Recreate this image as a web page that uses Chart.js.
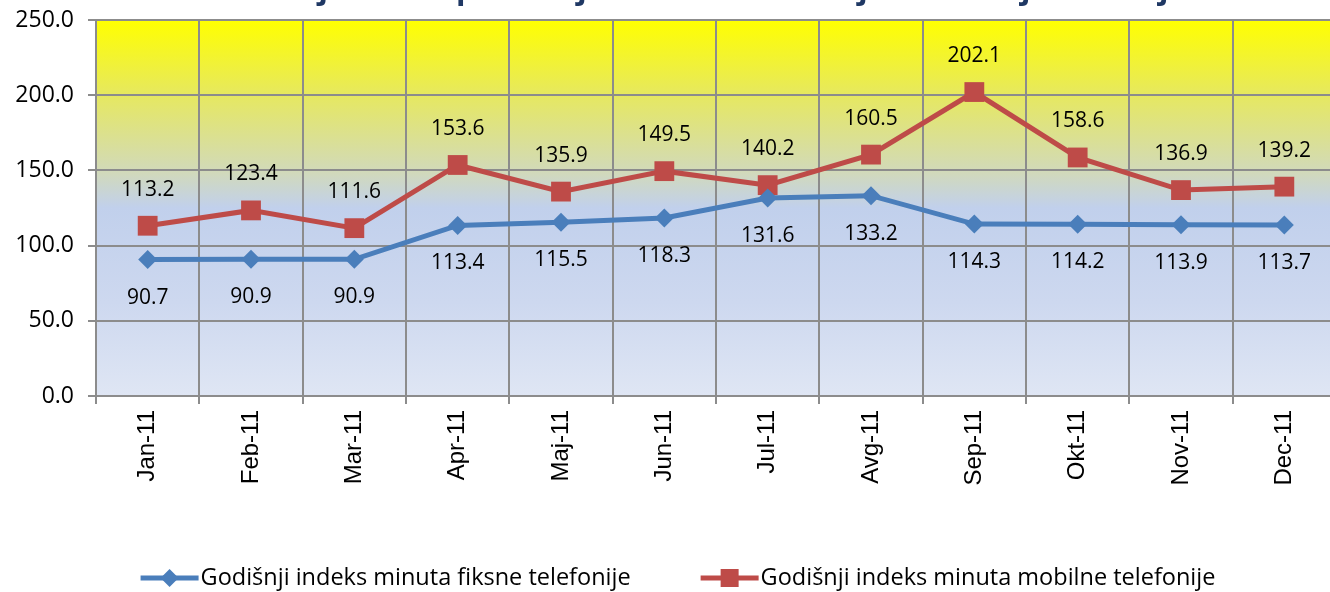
<!DOCTYPE html>
<html>
<head>
<meta charset="utf-8">
<script src="https://cdn.jsdelivr.net/npm/chart.js@4/dist/chart.umd.min.js"></script>
<style>
  html, body { margin: 0; padding: 0; background: #fff; overflow: hidden; }
  #wrap { position: absolute; left: 0; top: 0; width: 1350px; height: 592px; }
</style>
</head>
<body>
<div id="wrap"><canvas id="chart"></canvas></div>
<script>
// values
const months = ['Jan-11', 'Feb-11', 'Mar-11', 'Apr-11', 'Maj-11', 'Jun-11', 'Jul-11', 'Avg-11', 'Sep-11', 'Okt-11', 'Nov-11', 'Dec-11'];
const fiksna = [90.7, 90.9, 90.9, 113.4, 115.5, 118.3, 131.6, 133.2, 114.3, 114.2, 113.9, 113.7];
const mobilna = [113.2, 123.4, 111.6, 153.6, 135.9, 149.5, 140.2, 160.5, 202.1, 158.6, 136.9, 139.2];
const yTicks = [0, 50, 100, 150, 200, 250];

const titleText = 'Godišnji indeks potrošnje minuta u fiksnoj i mobilnoj telefoniji';
const BLUE = '#4A7EBB';
const RED = '#BE4B48';
const GRID = '#8c8c8c';
const FONT = '"Open Sans", "Liberation Sans", sans-serif';

// plot area background: yellow at the top fading into pale blue
const plotBg = {
  id: 'plotBg',
  beforeDraw(chart) {
    const { ctx, chartArea: a } = chart;
    const g = ctx.createLinearGradient(0, a.top, 0, a.bottom);
    g.addColorStop(0, '#FFFF00');
    g.addColorStop(0.2, '#E6E860');
    g.addColorStop(0.4, '#D2DAB8');
    g.addColorStop(0.5, '#C1D0EC');
    g.addColorStop(0.75, '#CDD8EF');
    g.addColorStop(1, '#DFE6F4');
    ctx.save();
    ctx.fillStyle = g;
    ctx.fillRect(a.left, a.top, a.right - a.left, a.bottom - a.top);
    ctx.restore();
  }
};

// value labels: fixed line below its points, mobile line above
const valueLabels = {
  id: 'valueLabels',
  afterDatasetsDraw(chart) {
    const { ctx } = chart;
    ctx.save();
    ctx.font = '21px ' + FONT;
    ctx.fillStyle = '#000';
    ctx.textAlign = 'center';
    ctx.textBaseline = 'middle';
    chart.data.datasets.forEach((ds, i) => {
      const off = i === 0 ? 38 : -36;
      chart.getDatasetMeta(i).data.forEach((pt, j) => {
        ctx.fillText(ds.data[j].toFixed(1), pt.x, pt.y + off);
      });
    });
    ctx.restore();
  }
};

// title sits mostly above the picture, only the bottoms of the letters show
const clippedTitle = {
  id: 'clippedTitle',
  afterDraw(chart) {
    const { ctx } = chart;
    ctx.save();
    ctx.font = 'bold 31px ' + FONT;
    ctx.fillStyle = '#1F3864';
    ctx.textAlign = 'center';
    ctx.textBaseline = 'alphabetic';
    ctx.fillText(titleText, 695, -1);
    ctx.restore();
  }
};

// legend with line + marker, drawn under the axis labels
function drawMarker(ctx, style, x, y, color) {
  ctx.fillStyle = color;
  ctx.beginPath();
  if (style === 'rectRot') {
    ctx.moveTo(x - 9, y); ctx.lineTo(x, y - 9); ctx.lineTo(x + 9, y); ctx.lineTo(x, y + 9);
  } else {
    ctx.rect(x - 9, y - 9, 18, 18);
  }
  ctx.closePath();
  ctx.fill();
}

const lineLegend = {
  id: 'lineLegend',
  afterDraw(chart) {
    const { ctx, chartArea: a } = chart;
    const y = 578, lineW = 58, gapText = 2, gapItem = 70;
    ctx.save();
    ctx.font = '23.5px ' + FONT;
    const items = chart.data.datasets.map(ds => ({ ds, w: ctx.measureText(ds.label).width }));
    const total = items.reduce((s, it) => s + lineW + gapText + it.w, 0) + gapItem * (items.length - 1);
    let x = (a.left + a.right) / 2 - 38 - total / 2;
    items.forEach(it => {
      ctx.strokeStyle = it.ds.borderColor;
      ctx.lineWidth = 5;
      ctx.beginPath();
      ctx.moveTo(x, y); ctx.lineTo(x + lineW, y);
      ctx.stroke();
      drawMarker(ctx, it.ds.pointStyle, x + lineW / 2, y, it.ds.borderColor);
      ctx.fillStyle = '#000';
      ctx.textAlign = 'left';
      ctx.textBaseline = 'middle';
      ctx.fillText(it.ds.label, x + lineW + gapText, y);
      x += lineW + gapText + it.w + gapItem;
    });
    ctx.restore();
  }
};

new Chart(document.getElementById('chart'), {
  type: 'line',
  data: {
    labels: months,
    datasets: [
      { label: 'Godišnji indeks minuta fiksne telefonije', data: fiksna, borderColor: BLUE, backgroundColor: BLUE,
        borderWidth: 5, pointStyle: 'rectRot', pointRadius: 9.5, pointBorderWidth: 0, pointBackgroundColor: BLUE, tension: 0 },
      { label: 'Godišnji indeks minuta mobilne telefonije', data: mobilna, borderColor: RED, backgroundColor: RED,
        borderWidth: 5, pointStyle: 'rect', pointRadius: 14, pointBorderWidth: 0, pointBackgroundColor: RED, tension: 0 }
    ]
  },
  options: {
    responsive: true, maintainAspectRatio: false, animation: false,
    layout: { padding: { top: 20, right: 8, left: 0, bottom: 96 } },
    plugins: { legend: { display: false }, tooltip: { enabled: false }, title: { display: false } },
    scales: {
      x: {
        offset: true,
        grid: { offset: true, color: GRID, lineWidth: 2, tickLength: 8, tickColor: GRID },
        border: { color: GRID, width: 2 },
        ticks: { color: '#000', font: { family: '"Liberation Sans", Arial, sans-serif', size: 24 }, minRotation: 90, maxRotation: 90, padding: 6 },
        afterFit: (s) => { s.height = 100; s.paddingLeft = 0; s.paddingRight = 0; }
      },
      y: {
        min: 0, max: 250,
        afterBuildTicks: (s) => { s.ticks = yTicks.map(v => ({ value: v })); },
        grid: { color: GRID, lineWidth: 2, tickLength: 8, tickColor: GRID },
        border: { color: GRID, width: 2 },
        ticks: { color: '#000', font: { family: FONT, size: 23 }, padding: 14, callback: (v) => v.toFixed(1) },
        afterFit: (s) => { s.width = 96; s.paddingTop = 0; s.paddingBottom = 0; }
      }
    }
  },
  plugins: [plotBg, valueLabels, clippedTitle, lineLegend]
});
</script>
</body>
</html>
